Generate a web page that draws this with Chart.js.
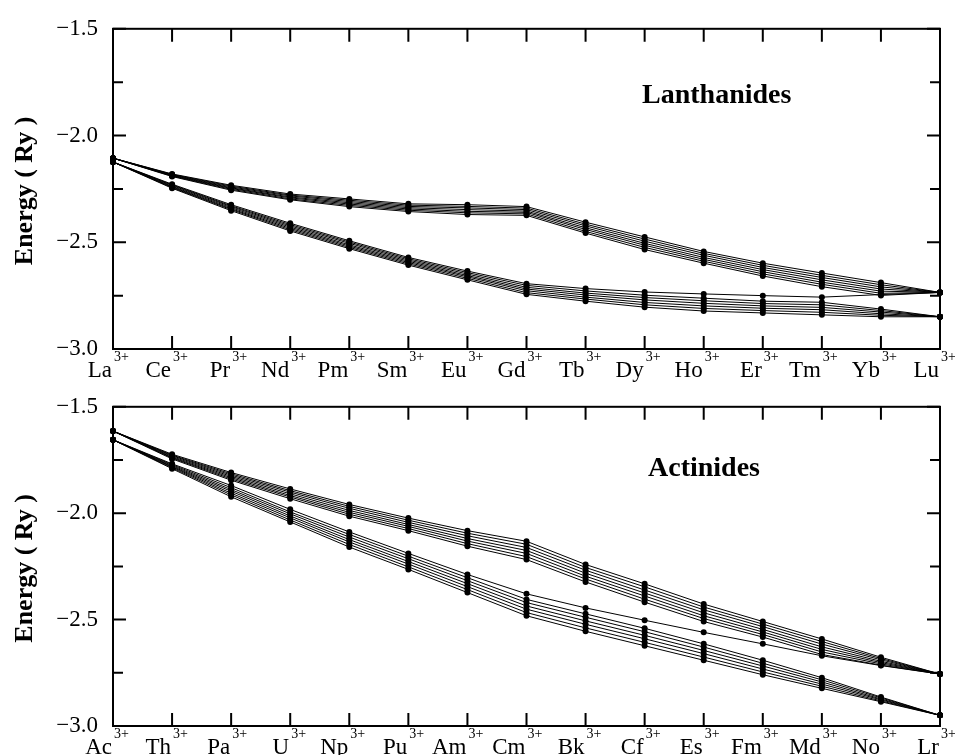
<!DOCTYPE html>
<html>
<head>
<meta charset="utf-8">
<script src="https://cdn.jsdelivr.net/npm/chart.js@4.4.0/dist/chart.umd.min.js"></script>
<style>
    body { margin: 0; background: #fff; }
    canvas { position: absolute; left: 0; }
    #lnChart { top: 0; }
    #anChart { top: 378px; }
</style>
</head>
<body>
<canvas id="lnChart" width="955" height="390"></canvas>
<canvas id="anChart" width="955" height="377"></canvas>
<script>
// nhãn trục x
const lnIons = ['La', 'Ce', 'Pr', 'Nd', 'Pm', 'Sm', 'Eu', 'Gd', 'Tb', 'Dy', 'Ho', 'Er', 'Tm', 'Yb', 'Lu'];
const anIons = ['Ac', 'Th', 'Pa', 'U', 'Np', 'Pu', 'Am', 'Cm', 'Bk', 'Cf', 'Es', 'Fm', 'Md', 'No', 'Lr'];
const yTicks = [-3.0, -2.75, -2.5, -2.25, -2.0, -1.75, -1.5];

// Lanthanides, nhánh trên (7 đường)
const lnUpper = [
    [-2.106, -2.180, -2.233, -2.274, -2.297, -2.320, -2.324, -2.333, -2.406, -2.475, -2.543, -2.598, -2.644, -2.689, -2.735],
    [-2.106, -2.182, -2.237, -2.279, -2.303, -2.326, -2.332, -2.340, -2.415, -2.485, -2.552, -2.608, -2.655, -2.699, -2.735],
    [-2.106, -2.184, -2.241, -2.283, -2.309, -2.332, -2.339, -2.347, -2.423, -2.495, -2.561, -2.618, -2.665, -2.709, -2.735],
    [-2.106, -2.186, -2.245, -2.288, -2.315, -2.338, -2.347, -2.354, -2.432, -2.505, -2.571, -2.628, -2.676, -2.719, -2.735],
    [-2.106, -2.188, -2.248, -2.292, -2.321, -2.344, -2.355, -2.360, -2.440, -2.514, -2.580, -2.638, -2.687, -2.729, -2.735],
    [-2.106, -2.190, -2.252, -2.297, -2.327, -2.350, -2.362, -2.367, -2.449, -2.524, -2.589, -2.648, -2.697, -2.739, -2.735],
    [-2.106, -2.192, -2.256, -2.301, -2.333, -2.356, -2.370, -2.374, -2.457, -2.534, -2.598, -2.658, -2.708, -2.749, -2.735]
];
// Lanthanides, nhánh dưới (7 đường)
const lnLower = [
    [-2.124, -2.228, -2.324, -2.411, -2.493, -2.571, -2.635, -2.694, -2.717, -2.733, -2.742, -2.750, -2.757, -2.745, -2.735],
    [-2.124, -2.231, -2.329, -2.417, -2.499, -2.577, -2.642, -2.702, -2.728, -2.748, -2.762, -2.776, -2.781, -2.813, -2.849],
    [-2.124, -2.234, -2.333, -2.423, -2.505, -2.583, -2.649, -2.711, -2.738, -2.759, -2.774, -2.787, -2.793, -2.820, -2.849],
    [-2.124, -2.238, -2.338, -2.429, -2.512, -2.589, -2.656, -2.719, -2.747, -2.770, -2.786, -2.798, -2.805, -2.827, -2.849],
    [-2.124, -2.241, -2.343, -2.435, -2.518, -2.595, -2.662, -2.727, -2.757, -2.782, -2.798, -2.809, -2.816, -2.835, -2.849],
    [-2.124, -2.244, -2.347, -2.441, -2.524, -2.601, -2.669, -2.736, -2.766, -2.793, -2.810, -2.820, -2.828, -2.842, -2.849],
    [-2.124, -2.247, -2.352, -2.447, -2.530, -2.607, -2.676, -2.744, -2.776, -2.804, -2.822, -2.831, -2.840, -2.849, -2.849]
];
// Actinides, nhánh trên
const anUpper = [
    [-1.614, -1.723, -1.809, -1.886, -1.959, -2.023, -2.082, -2.132, -2.241, -2.332, -2.427, -2.509, -2.591, -2.677, -2.756],
    [-1.614, -1.727, -1.815, -1.894, -1.968, -2.033, -2.094, -2.146, -2.255, -2.346, -2.441, -2.521, -2.603, -2.683, -2.756],
    [-1.614, -1.730, -1.821, -1.901, -1.977, -2.043, -2.106, -2.161, -2.268, -2.361, -2.454, -2.533, -2.615, -2.689, -2.756],
    [-1.614, -1.734, -1.827, -1.909, -1.987, -2.053, -2.119, -2.175, -2.282, -2.375, -2.468, -2.546, -2.628, -2.696, -2.756],
    [-1.614, -1.738, -1.833, -1.917, -1.996, -2.062, -2.131, -2.189, -2.296, -2.389, -2.482, -2.558, -2.640, -2.702, -2.756],
    [-1.614, -1.741, -1.839, -1.924, -2.005, -2.072, -2.143, -2.204, -2.309, -2.404, -2.495, -2.570, -2.652, -2.708, -2.756],
    [-1.614, -1.745, -1.845, -1.932, -2.014, -2.082, -2.155, -2.218, -2.323, -2.418, -2.509, -2.582, -2.664, -2.714, -2.756]
];
// Actinides, nhánh dưới
const anLower = [
    [-1.655, -1.768, -1.870, -1.982, -2.088, -2.189, -2.288, -2.379, -2.445, -2.503, -2.560, -2.614, -2.670, -2.716, -2.756],
    [-1.655, -1.772, -1.880, -1.994, -2.100, -2.202, -2.303, -2.405, -2.473, -2.541, -2.614, -2.691, -2.773, -2.864, -2.950],
    [-1.655, -1.776, -1.889, -2.003, -2.112, -2.214, -2.317, -2.420, -2.489, -2.557, -2.629, -2.705, -2.783, -2.868, -2.950],
    [-1.655, -1.780, -1.897, -2.013, -2.124, -2.227, -2.331, -2.436, -2.506, -2.574, -2.645, -2.718, -2.793, -2.873, -2.950],
    [-1.655, -1.783, -1.906, -2.022, -2.135, -2.239, -2.345, -2.451, -2.522, -2.590, -2.660, -2.732, -2.803, -2.877, -2.950],
    [-1.655, -1.787, -1.914, -2.032, -2.147, -2.252, -2.359, -2.467, -2.539, -2.607, -2.676, -2.746, -2.813, -2.882, -2.950],
    [-1.655, -1.791, -1.923, -2.041, -2.159, -2.264, -2.373, -2.482, -2.555, -2.623, -2.691, -2.759, -2.823, -2.886, -2.950]
];

const SERIF = "'Liberation Serif', 'Times New Roman', serif";

const buildDatasets = (series) => series.map((values) => ({
    data: values,
    borderColor: '#000',
    borderWidth: 1,
    pointRadius: 3,
    pointBackgroundColor: '#000',
    pointBorderWidth: 0,
    tension: 0,
    clip: false
}));

// khung, vạch chia hướng vào trong, nhãn có chỉ số trên
const buildDecorPlugin = (names, title, titleX, titleY) => ({
    id: 'panelDecor',
    afterDraw(chart) {
        const { ctx, chartArea: { left, right, top, bottom } } = chart;
        const xScale = chart.scales.x;
        const yScale = chart.scales.y;
        ctx.save();
        ctx.strokeStyle = '#000';
        ctx.lineWidth = 2;
        ctx.strokeRect(left, top, right - left, bottom - top);

        ctx.beginPath();
        names.forEach((_, i) => {
            const x = xScale.getPixelForValue(i);
            ctx.moveTo(x, bottom);
            ctx.lineTo(x, bottom - 13);
            ctx.moveTo(x, top);
            ctx.lineTo(x, top + 13);
        });
        yTicks.forEach(v => {
            const y = yScale.getPixelForValue(v);
            const len = Math.round(v * 4) % 2 === 0 ? 13 : 10;
            ctx.moveTo(left, y);
            ctx.lineTo(left + len, y);
            ctx.moveTo(right, y);
            ctx.lineTo(right - len, y);
        });
        ctx.stroke();

        ctx.fillStyle = '#000';
        ctx.textBaseline = 'alphabetic';
        names.forEach((name, i) => {
            const x = xScale.getPixelForValue(i);
            ctx.font = `23px ${SERIF}`;
            ctx.textAlign = 'right';
            ctx.fillText(name, x - 1, bottom + 28);
            ctx.font = `14px ${SERIF}`;
            ctx.textAlign = 'left';
            ctx.fillText('3+', x + 1, bottom + 12);
        });

        ctx.font = `bold 28px ${SERIF}`;
        ctx.textAlign = 'left';
        ctx.fillText(title, titleX, titleY);

        ctx.translate(32, (top + bottom) / 2 + 2);
        ctx.rotate(-Math.PI / 2);
        ctx.font = `bold 26px ${SERIF}`;
        ctx.textAlign = 'center';
        ctx.fillText('Energy ( Ry )', 0, 0);
        ctx.restore();
    }
});

const buildPanelConfig = (names, series, title, titleX, titleY, padTop, xHeight) => ({
    type: 'line',
    data: {
        labels: names,
        datasets: buildDatasets(series)
    },
    options: {
        responsive: false,
        animation: false,
        layout: { padding: { top: padTop, right: 15, left: 0, bottom: 0 } },
        plugins: {
            legend: { display: false },
            tooltip: { enabled: false }
        },
        scales: {
            x: {
                type: 'category',
                offset: false,
                grid: { display: false, drawTicks: false },
                border: { display: false },
                ticks: { display: false },
                afterFit: (scale) => { scale.height = xHeight; }
            },
            y: {
                min: -3.0,
                max: -1.5,
                grid: { display: false, drawTicks: false },
                border: { display: false },
                ticks: {
                    stepSize: 0.25,
                    padding: 15,
                    color: '#000',
                    font: { family: SERIF, size: 23 },
                    callback: function (value) {
                        if (Math.round(value * 4) % 2 === 0) { return '\u2212' + Math.abs(value).toFixed(1); }
                        return '';
                    }
                },
                afterFit: (scale) => { scale.width = 113; }
            }
        }
    },
    plugins: [buildDecorPlugin(names, title, titleX, titleY)]
});

const lnChart = new Chart(document.getElementById('lnChart'),
    buildPanelConfig(lnIons, [...lnUpper, ...lnLower], 'Lanthanides', 642, 103, 20, 41));
const anChart = new Chart(document.getElementById('anChart'),
    buildPanelConfig(anIons, [...anUpper, ...anLower], 'Actinides', 648, 98, 18, 29));
</script>
</body>
</html>
